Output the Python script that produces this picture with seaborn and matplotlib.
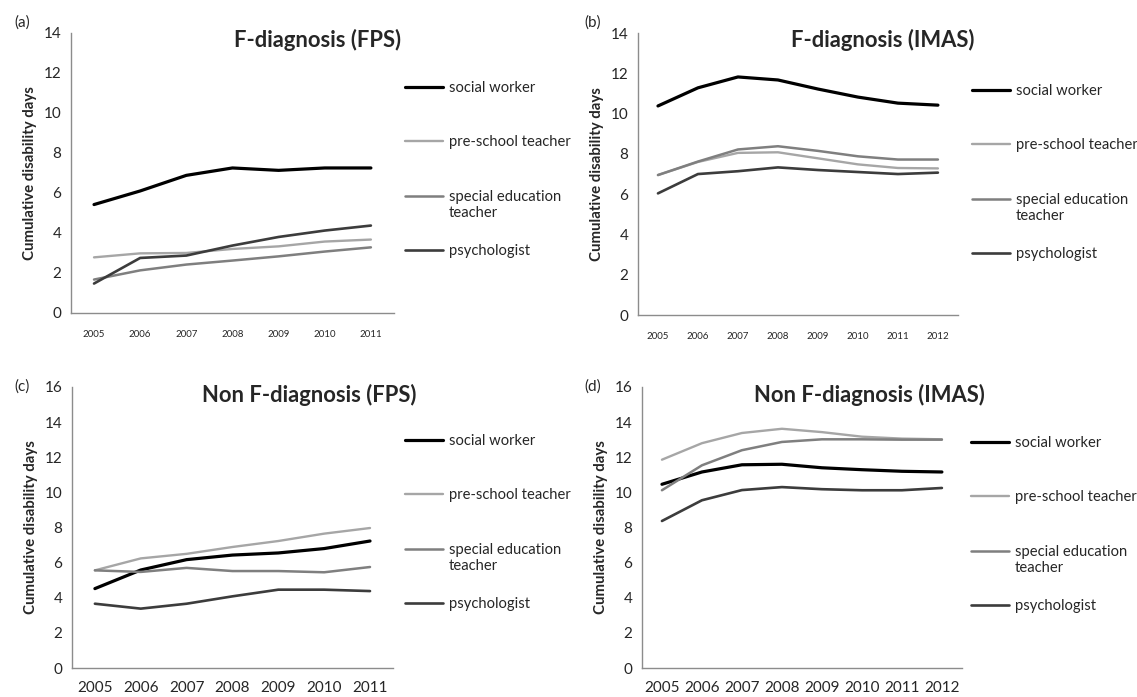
import pandas as pd
import matplotlib.pyplot as plt
import seaborn as sns

# occupations and styling
occupations = ["social worker", "pre-school teacher", "special education teacher", "psychologist"]
colors = {"social worker": "#000000", "pre-school teacher": "#a6a6a6",
          "special education teacher": "#7f7f7f", "psychologist": "#3c3c3c"}
widths = {"social worker": 2.3, "pre-school teacher": 1.7,
          "special education teacher": 1.8, "psychologist": 1.9}

years_fps = [2005, 2006, 2007, 2008, 2009, 2010, 2011]
years_imas = [2005, 2006, 2007, 2008, 2009, 2010, 2011, 2012]

# (a) F-diagnosis (FPS)
a_social = [5.42, 6.10, 6.88, 7.25, 7.13, 7.25, 7.25]
a_preschool = [2.78, 2.98, 3.00, 3.20, 3.33, 3.57, 3.67]
a_special = [1.67, 2.13, 2.42, 2.62, 2.83, 3.07, 3.28]
a_psych = [1.47, 2.75, 2.87, 3.37, 3.80, 4.12, 4.37]

# (b) F-diagnosis (IMAS)
b_social = [10.38, 11.28, 11.82, 11.67, 11.22, 10.82, 10.52, 10.42]
b_preschool = [6.95, 7.60, 8.05, 8.08, 7.78, 7.48, 7.30, 7.28]
b_special = [6.95, 7.62, 8.22, 8.38, 8.15, 7.88, 7.72, 7.72]
b_psych = [6.04, 7.00, 7.14, 7.33, 7.20, 7.10, 7.00, 7.07]

# (c) Non F-diagnosis (FPS)
c_social = [4.52, 5.58, 6.17, 6.43, 6.55, 6.80, 7.23]
c_preschool = [5.56, 6.24, 6.50, 6.89, 7.23, 7.65, 7.97]
c_special = [5.56, 5.47, 5.70, 5.52, 5.52, 5.45, 5.75]
c_psych = [3.66, 3.38, 3.66, 4.08, 4.46, 4.46, 4.38]

# (d) Non F-diagnosis (IMAS)
d_social = [10.46, 11.16, 11.57, 11.60, 11.40, 11.29, 11.20, 11.16]
d_preschool = [11.86, 12.80, 13.38, 13.62, 13.43, 13.17, 13.06, 13.02]
d_special = [10.12, 11.54, 12.40, 12.87, 13.02, 13.02, 13.00, 13.00]
d_psych = [8.37, 9.55, 10.13, 10.30, 10.18, 10.12, 10.12, 10.25]

panels = [
    ("(a)", "F-diagnosis (FPS)", years_fps, [a_social, a_preschool, a_special, a_psych], 14,
     [0.0624, 0.551, 0.2841, 0.4017], 7, (0.279, 0.943), (0.0193, 0.967), (1.034, 0.829)),
    ("(b)", "F-diagnosis (IMAS)", years_imas, [b_social, b_preschool, b_special, b_psych], 14,
     [0.5611, 0.548, 0.2814, 0.4046], 7, (0.776, 0.943), (0.5216, 0.967), (1.044, 0.820)),
    ("(c)", "Non F-diagnosis (FPS)", years_fps, [c_social, c_preschool, c_special, c_psych], 16,
     [0.0633, 0.0416, 0.2823, 0.4032], 11, (0.272, 0.433), (0.0193, 0.445), (1.037, 0.833)),
    ("(d)", "Non F-diagnosis (IMAS)", years_imas, [d_social, d_preschool, d_special, d_psych], 16,
     [0.5646, 0.0416, 0.2814, 0.4032], 11, (0.765, 0.433), (0.5216, 0.445), (1.028, 0.826)),
]

sns.set_style("white")
plt.rcParams['font.family'] = ['Lato', 'DejaVu Sans']
axis_gray = "#8c8c8c"

fig = plt.figure(figsize=(11.37, 6.97), dpi=100)

for label, title, years, series, ymax, rect, xfs, title_pos, label_pos, leg_pos in panels:
    ax = fig.add_axes(rect)
    rows = []
    for occ, vals in zip(occupations, series):
        for yr, v in zip(years, vals):
            rows.append({"year": yr, "days": v, "occupation": occ})
    df = pd.DataFrame(rows)

    sns.lineplot(data=df, x="year", y="days", hue="occupation", size="occupation",
                 hue_order=occupations, size_order=occupations,
                 palette=colors, sizes=widths, ax=ax)

    ax.set_xlim(years[0] - 0.5, years[-1] + 0.5)
    ax.set_ylim(0, ymax)
    ax.set_yticks(range(0, ymax + 1, 2))
    ax.set_xticks(years)
    ax.set_xticklabels([str(y) for y in years], fontsize=xfs)
    ax.set_xticks([y - 0.5 for y in years] + [years[-1] + 0.5], minor=True)
    ax.tick_params(axis="x", which="major", length=0, pad=12 if xfs < 9 else 9)
    ax.tick_params(axis="x", which="minor", length=5, width=1, color=axis_gray, direction="out")
    ax.tick_params(axis="y", length=5, width=1, color=axis_gray, direction="out",
                   labelsize=11, pad=2)
    for s in ["top", "right"]:
        ax.spines[s].set_visible(False)
    for s in ["left", "bottom"]:
        ax.spines[s].set_color(axis_gray)
        ax.spines[s].set_linewidth(1)
    ax.set_xlabel("")
    ax.set_ylabel("Cumulative disability days", fontsize=10.8, fontweight="bold", labelpad=5)

    sns.move_legend(ax, "upper left", bbox_to_anchor=leg_pos, frameon=False, title=None,
                    fontsize=10.6, labelspacing=2.75, handlelength=2.6, handletextpad=0.4,
                    borderpad=0, borderaxespad=0)
    leg = ax.get_legend()
    for txt in leg.get_texts():
        if txt.get_text() == "special education teacher":
            txt.set_text("special education")
            ax.annotate("teacher", xy=(0, 0), xycoords=txt, xytext=(0, -1.5),
                        textcoords="offset points", va="top", ha="left",
                        fontsize=10.6, zorder=10, annotation_clip=False)

    fig.text(title_pos[0], title_pos[1], title, ha="center", va="center",
             fontsize=15.8, fontweight="bold")
    fig.text(label_pos[0], label_pos[1], label, ha="center", va="center", fontsize=11)

fig.canvas.draw()
plt.savefig("out.png", dpi=100)
